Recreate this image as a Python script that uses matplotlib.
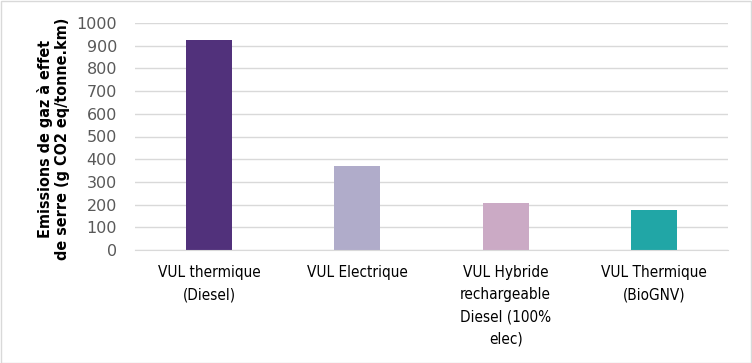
import matplotlib
matplotlib.use("Agg")
import matplotlib.pyplot as plt
from matplotlib.patches import Rectangle

categories = ["VUL thermique\n(Diesel)", "VUL Electrique",
              "VUL Hybride\nrechargeable\nDiesel (100%\nelec)",
              "VUL Thermique\n(BioGNV)"]
emissions = [925, 370, 207, 178]
colors = ["#51317b", "#b0acca", "#cbaac5", "#21a6a6"]
yticks = list(range(0, 1001, 100))

plt.rcParams["font.family"] = ["DejaVu Sans"]

fig = plt.figure(figsize=(7.52, 3.63), dpi=100)
ax = fig.add_axes([135 / 752, 1 - 250 / 363, 593 / 752, 227 / 363])

x = range(len(categories))
ax.bar(x, emissions, width=0.31, color=colors, zorder=3)

ax.set_xlim(-0.5, len(categories) - 0.5)
ax.set_ylim(0, 1000)
ax.set_yticks(yticks)
ax.set_xticks(list(x))
ax.set_xticklabels(categories, fontsize=11, color="#000000", linespacing=1.6,
                   fontstretch="condensed")
ax.tick_params(axis="y", labelsize=11.5, colors="#595959", length=0, pad=13)
ax.tick_params(axis="x", length=0, pad=11)
ax.grid(axis="y", color="#d9d9d9", lw=1, zorder=0)
for s in ["top", "right", "left"]:
    ax.spines[s].set_visible(False)
ax.spines["bottom"].set_color("#d9d9d9")
ax.spines["bottom"].set_zorder(4)

ax.set_ylabel("Emissions de gaz à effet\nde serre (g CO2 eq/tonne.km)",
              fontsize=11.5, fontweight="bold", linespacing=1.15,
              fontstretch="condensed")
ax.yaxis.set_label_coords(-0.11, 0.49)

fig.patches.append(Rectangle((0.5 / 752, 0.5 / 363), 1 - 1.5 / 752, 1 - 1.5 / 363,
                             transform=fig.transFigure, fill=False,
                             edgecolor="#d9d9d9", lw=1))

fig.savefig("out.png", dpi=100)
